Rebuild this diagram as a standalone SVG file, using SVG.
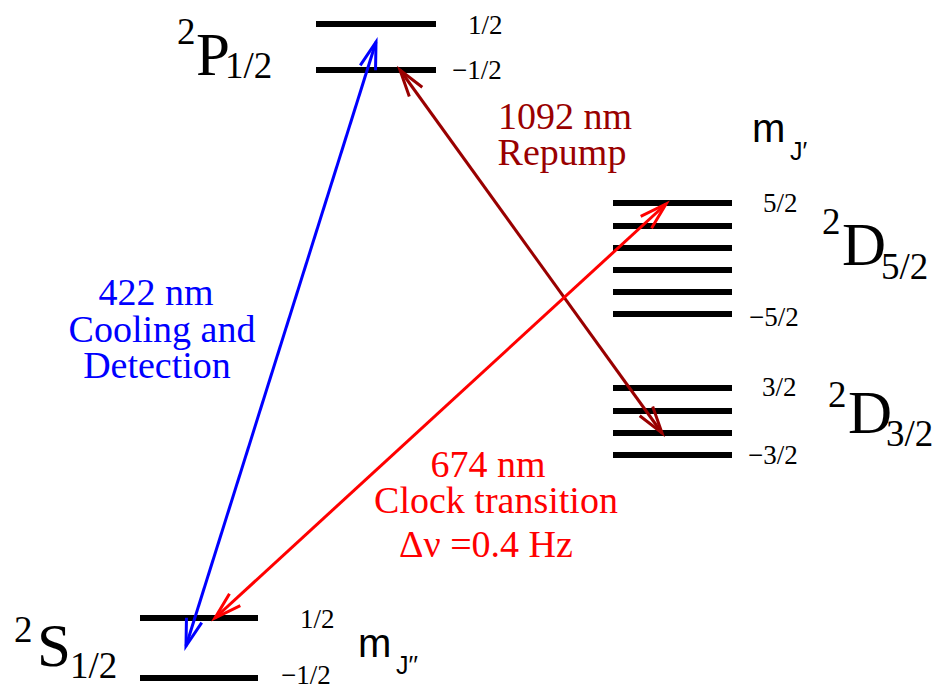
<svg xmlns="http://www.w3.org/2000/svg" width="938" height="687" viewBox="0 0 938 687">
<style>
.lvl{stroke:#000;stroke-width:6;fill:none}
.t{font-family:"Liberation Serif","Times New Roman",serif}
.m{font-family:"Liberation Sans",Arial,sans-serif}
.big{font-size:61px}
.sub{font-size:37px}
.lab{font-size:27px}
.desc{font-size:38px;text-anchor:middle}
</style>
<defs>
<marker id="hb" markerUnits="userSpaceOnUse" markerWidth="40" markerHeight="30" refX="0" refY="0" viewBox="-30 -15 40 30" orient="auto-start-reverse" overflow="visible">
<path d="M-27,-8 L0,0 L-27,8" fill="none" stroke="#0000ff" stroke-width="3"/>
</marker>
<marker id="hr" markerUnits="userSpaceOnUse" markerWidth="40" markerHeight="30" refX="0" refY="0" viewBox="-30 -15 40 30" orient="auto-start-reverse" overflow="visible">
<path d="M-27,-8 L0,0 L-27,8" fill="none" stroke="#ff0000" stroke-width="3"/>
</marker>
<marker id="hd" markerUnits="userSpaceOnUse" markerWidth="40" markerHeight="30" refX="0" refY="0" viewBox="-30 -15 40 30" orient="auto-start-reverse" overflow="visible">
<path d="M-27,-8 L0,0 L-27,8" fill="none" stroke="#990000" stroke-width="3"/>
</marker>
</defs>
<rect width="938" height="687" fill="#fff"/>

<g id="P12">
<line class="lvl" x1="316" y1="24" x2="436" y2="24"/>
<line class="lvl" x1="316" y1="70" x2="436" y2="70"/>
<text class="t lab" x="468" y="34">1/2</text>
<text class="t lab" x="452" y="79">−1/2</text>
<text class="t sub" x="177" y="44">2</text>
<text class="t big" x="196" y="75">P</text>
<text class="t sub" x="225" y="78">1/2</text>
</g>

<g id="D52">
<line class="lvl" x1="613" y1="203" x2="732" y2="203"/>
<line class="lvl" x1="613" y1="226" x2="732" y2="226"/>
<line class="lvl" x1="613" y1="248" x2="732" y2="248"/>
<line class="lvl" x1="613" y1="270" x2="732" y2="270"/>
<line class="lvl" x1="613" y1="292" x2="732" y2="292"/>
<line class="lvl" x1="613" y1="314" x2="732" y2="314"/>
<text class="t lab" x="763" y="212">5/2</text>
<text class="t lab" x="749" y="326">−5/2</text>
<text class="t sub" x="822" y="234">2</text>
<text class="t big" x="842" y="265">D</text>
<text class="t sub" x="881" y="279">5/2</text>
<text class="m" x="752" y="142" font-size="40">m</text>
<text class="m" x="790" y="160" font-size="25">J′</text>
</g>

<g id="D32">
<line class="lvl" x1="613" y1="388" x2="732" y2="388"/>
<line class="lvl" x1="613" y1="411" x2="732" y2="411"/>
<line class="lvl" x1="613" y1="433" x2="732" y2="433"/>
<line class="lvl" x1="613" y1="455" x2="732" y2="455"/>
<text class="t lab" x="762" y="396">3/2</text>
<text class="t lab" x="748" y="464">−3/2</text>
<text class="t sub" x="828" y="407">2</text>
<text class="t big" x="848" y="433">D</text>
<text class="t sub" x="886" y="446">3/2</text>
</g>

<g id="S12">
<line class="lvl" x1="140" y1="618" x2="258" y2="618"/>
<line class="lvl" x1="140" y1="678" x2="258" y2="678"/>
<text class="t lab" x="300" y="628">1/2</text>
<text class="t lab" x="281" y="684">−1/2</text>
<text class="t sub" x="14" y="642">2</text>
<text class="t big" x="37" y="666">S</text>
<text class="t sub" x="70" y="678">1/2</text>
<text class="m" x="358" y="657" font-size="40">m</text>
<text class="m" x="396" y="674" font-size="25">J′′</text>
</g>

<g id="connectors">
<line x1="376" y1="42" x2="186" y2="646" stroke="#0000ff" stroke-width="3" marker-start="url(#hb)" marker-end="url(#hb)"/>
<line x1="400" y1="70" x2="662" y2="433" stroke="#990000" stroke-width="3" marker-start="url(#hd)" marker-end="url(#hd)"/>
<line x1="666" y1="204" x2="215" y2="618" stroke="#ff0000" stroke-width="3" marker-start="url(#hr)" marker-end="url(#hr)"/>
</g>

<g id="labels">
<text class="t desc" x="156" y="305" fill="#0000ff">422 nm</text>
<text class="t desc" x="162" y="342" fill="#0000ff">Cooling and</text>
<text class="t desc" x="157" y="378" fill="#0000ff">Detection</text>
<text class="t desc" x="565" y="129" fill="#990000">1092 nm</text>
<text class="t desc" x="562" y="165" fill="#990000">Repump</text>
<text class="t desc" x="488" y="477" fill="#ff0000">674 nm</text>
<text class="t desc" x="496" y="513" fill="#ff0000">Clock transition</text>
<text class="t desc" x="486" y="557" fill="#ff0000">Δν =0.4 Hz</text>
</g>
</svg>
